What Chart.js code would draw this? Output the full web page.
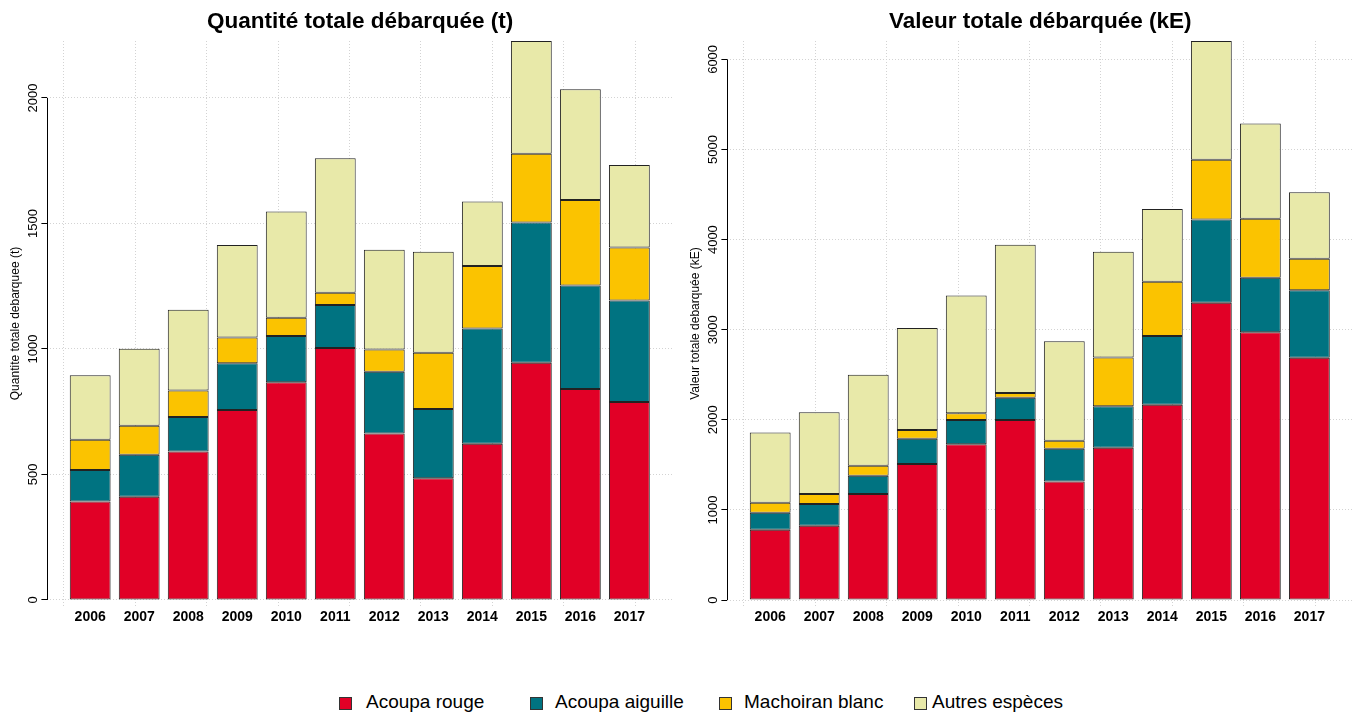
<!DOCTYPE html>
<html lang="fr">
<head>
<meta charset="utf-8">
<title>Débarquements 2006-2017</title>
<script src="https://cdn.jsdelivr.net/npm/chart.js@4/dist/chart.umd.min.js"></script>
<style>
  html, body { margin: 0; padding: 0; background: #fff; }
  body { width: 1359px; height: 713px; position: relative; overflow: hidden;
         font-family: "Liberation Sans", Arial, sans-serif; }
  .panel { position: absolute; top: 0; width: 680px; height: 650px; }
  #p1 { left: 0; }
  #p2 { left: 680px; }
  .leg { position: absolute; top: 691px; height: 24px; font-size: 19px; color: #000; white-space: nowrap; }
  .leg i { position: absolute; top: 6px; width: 11px; height: 11px; border: 1px solid #333; }
  .leg span { position: absolute; top: 0; }
</style>
</head>
<body>
<div class="panel" id="p1"><canvas id="chart-qte" width="680" height="650"></canvas></div>
<div class="panel" id="p2"><canvas id="chart-val" width="680" height="650"></canvas></div>
<div class="leg" id="legende"></div>

<script>
// Débarquements par espèce, quantité (t) et valeur (kE)
const COLORS = { rouge: "#E10026", aiguille: "#007381", machoiran: "#FBC300", autres: "#E8E9A9" };

const annees = ["2006", "2007", "2008", "2009", "2010", "2011", "2012", "2013", "2014", "2015", "2016", "2017"];
const especes = ["Acoupa rouge", "Acoupa aiguille", "Machoiran blanc", "Autres espèces"];

// quantité (t)
const acoupaRougeQ    = [392, 411, 592, 757, 867, 1004, 663, 485, 622, 945, 841, 789];
const acoupaAiguilleQ = [126, 168, 137, 186, 185, 171, 246, 276, 460, 559, 412, 404];
const machoiranQ      = [120, 115, 106, 103, 72, 49, 89, 224, 249, 274, 341, 211];
const autresQ         = [257, 307, 321, 368, 424, 536, 397, 402, 257, 449, 441, 329];

// valeur (kE)
const acoupaRougeV    = [780, 825, 1178, 1510, 1728, 1998, 1317, 1691, 2167, 3299, 2971, 2688];
const acoupaAiguilleV = [188, 242, 201, 279, 270, 247, 361, 459, 763, 923, 607, 751];
const machoiranV      = [111, 111, 111, 99, 74, 53, 91, 542, 603, 665, 653, 348];
const autresV         = [780, 907, 1009, 1132, 1309, 1645, 1103, 1173, 808, 1317, 1058, 739];

const ticksQ = [0, 500, 1000, 1500, 2000];
const ticksV = [0, 1000, 2000, 3000, 4000, 5000, 6000];

Chart.defaults.font.family = '"Liberation Sans", Arial, sans-serif';
Chart.defaults.color = "#000";
Chart.defaults.animation = false;

// trait d'axe à la R : du premier au dernier tick seulement
const axeR = {
  id: "axeR",
  afterDraw(chart) {
    const s = chart.scales.y, t = s.ticks, ctx = chart.ctx;
    const x = Math.round(s.right) + 0.5;
    ctx.save();
    ctx.strokeStyle = "#000"; ctx.lineWidth = 1;
    ctx.beginPath();
    ctx.moveTo(x, s.getPixelForValue(t[0].value));
    ctx.lineTo(x, s.getPixelForValue(t[t.length - 1].value));
    ctx.stroke();
    ctx.restore();
  },
};

function serie(label, data, color) {
  return { label, data, backgroundColor: color, borderColor: "#222", borderWidth: 1,
    borderSkipped: false, barPercentage: 1 / 1.2, categoryPercentage: 1, xAxisID: "x", yAxisID: "y" };
}

function renderBarres(id, titre, titreY, series, yTicks, yMin, yMax) {
  new Chart(id, {
    type: "bar",
    data: {
      labels: annees,
      datasets: series.map(([l, d, c]) => serie(l, d, c)),
    },
    plugins: [axeR],
    options: {
      responsive: false,
      layout: { padding: { left: 0, right: 7, top: 0, bottom: 0 } },
      plugins: {
        legend: { display: false },
        tooltip: { enabled: false },
        title: { display: true, text: titre, fullSize: false, color: "#000",
          font: { size: 22.5, weight: "bold" }, padding: { top: 8, bottom: 6 } },
      },
      scales: {
        x: {
          type: "linear", stacked: true, offset: false,
          min: 2005.127, max: 2017.89,
          afterBuildTicks: (s) => { s.ticks = annees.map((a) => ({ value: +a })); },
          afterFit: (s) => { s.height = 44; },
          grid: { display: false, drawTicks: false },
          border: { display: false },
          ticks: { callback: (v) => String(v), padding: 3, maxRotation: 0, autoSkip: false,
            font: { size: 14, weight: "bold" }, color: "#000" },
        },
        gx: {
          type: "linear", position: "bottom", min: -0.368, max: 14.968,
          afterFit: (s) => { s.height = 0; },
          ticks: { display: false, stepSize: 2, includeBounds: false },
          grid: { color: "#d3d3d3", lineWidth: 1, drawTicks: false },
          border: { display: false, dash: [1, 2] },
        },
        y: {
          stacked: true, min: yMin, max: yMax,
          afterBuildTicks: (s) => { s.ticks = yTicks.map((v) => ({ value: v })); },
          afterFit: (s) => { s.width = 47.4; },
          grid: { color: "#d3d3d3", lineWidth: 1, tickLength: 6, tickColor: "#000",
            tickBorderDash: [], tickWidth: 1 },
          border: { display: false, dash: [1, 2] },
          ticks: { callback: (v) => String(v), minRotation: 90, maxRotation: 90, crossAlign: "center",
            padding: -6, font: { size: 13 }, color: "#000" },
          title: { display: true, text: titreY, font: { size: 12 }, color: "#000",
            padding: { top: 8, bottom: 0 } },
        },
      },
    },
  });
}

function renderLegende() {
  const couleurs = [COLORS.rouge, COLORS.aiguille, COLORS.machoiran, COLORS.autres];
  const carres = [339, 530, 719, 914];
  const textes = [366, 555, 744, 932];
  document.getElementById("legende").innerHTML = especes
    .map((e, i) => `<i style="left:${carres[i]}px;background:${couleurs[i]}"></i><span style="left:${textes[i]}px">${e}</span>`)
    .join("");
}

renderBarres("chart-qte", "Quantité totale débarquée (t)", "Quantite totale debarquee (t)", [
  [especes[0], acoupaRougeQ, COLORS.rouge],
  [especes[1], acoupaAiguilleQ, COLORS.aiguille],
  [especes[2], machoiranQ, COLORS.machoiran],
  [especes[3], autresQ, COLORS.autres],
], ticksQ, -24, 2227);

renderBarres("chart-val", "Valeur totale débarquée (kE)", "Valeur totale debarquée (kE)", [
  [especes[0], acoupaRougeV, COLORS.rouge],
  [especes[1], acoupaAiguilleV, COLORS.aiguille],
  [especes[2], machoiranV, COLORS.machoiran],
  [especes[3], autresV, COLORS.autres],
], ticksV, -66, 6204);

renderLegende();
</script>
</body>
</html>
